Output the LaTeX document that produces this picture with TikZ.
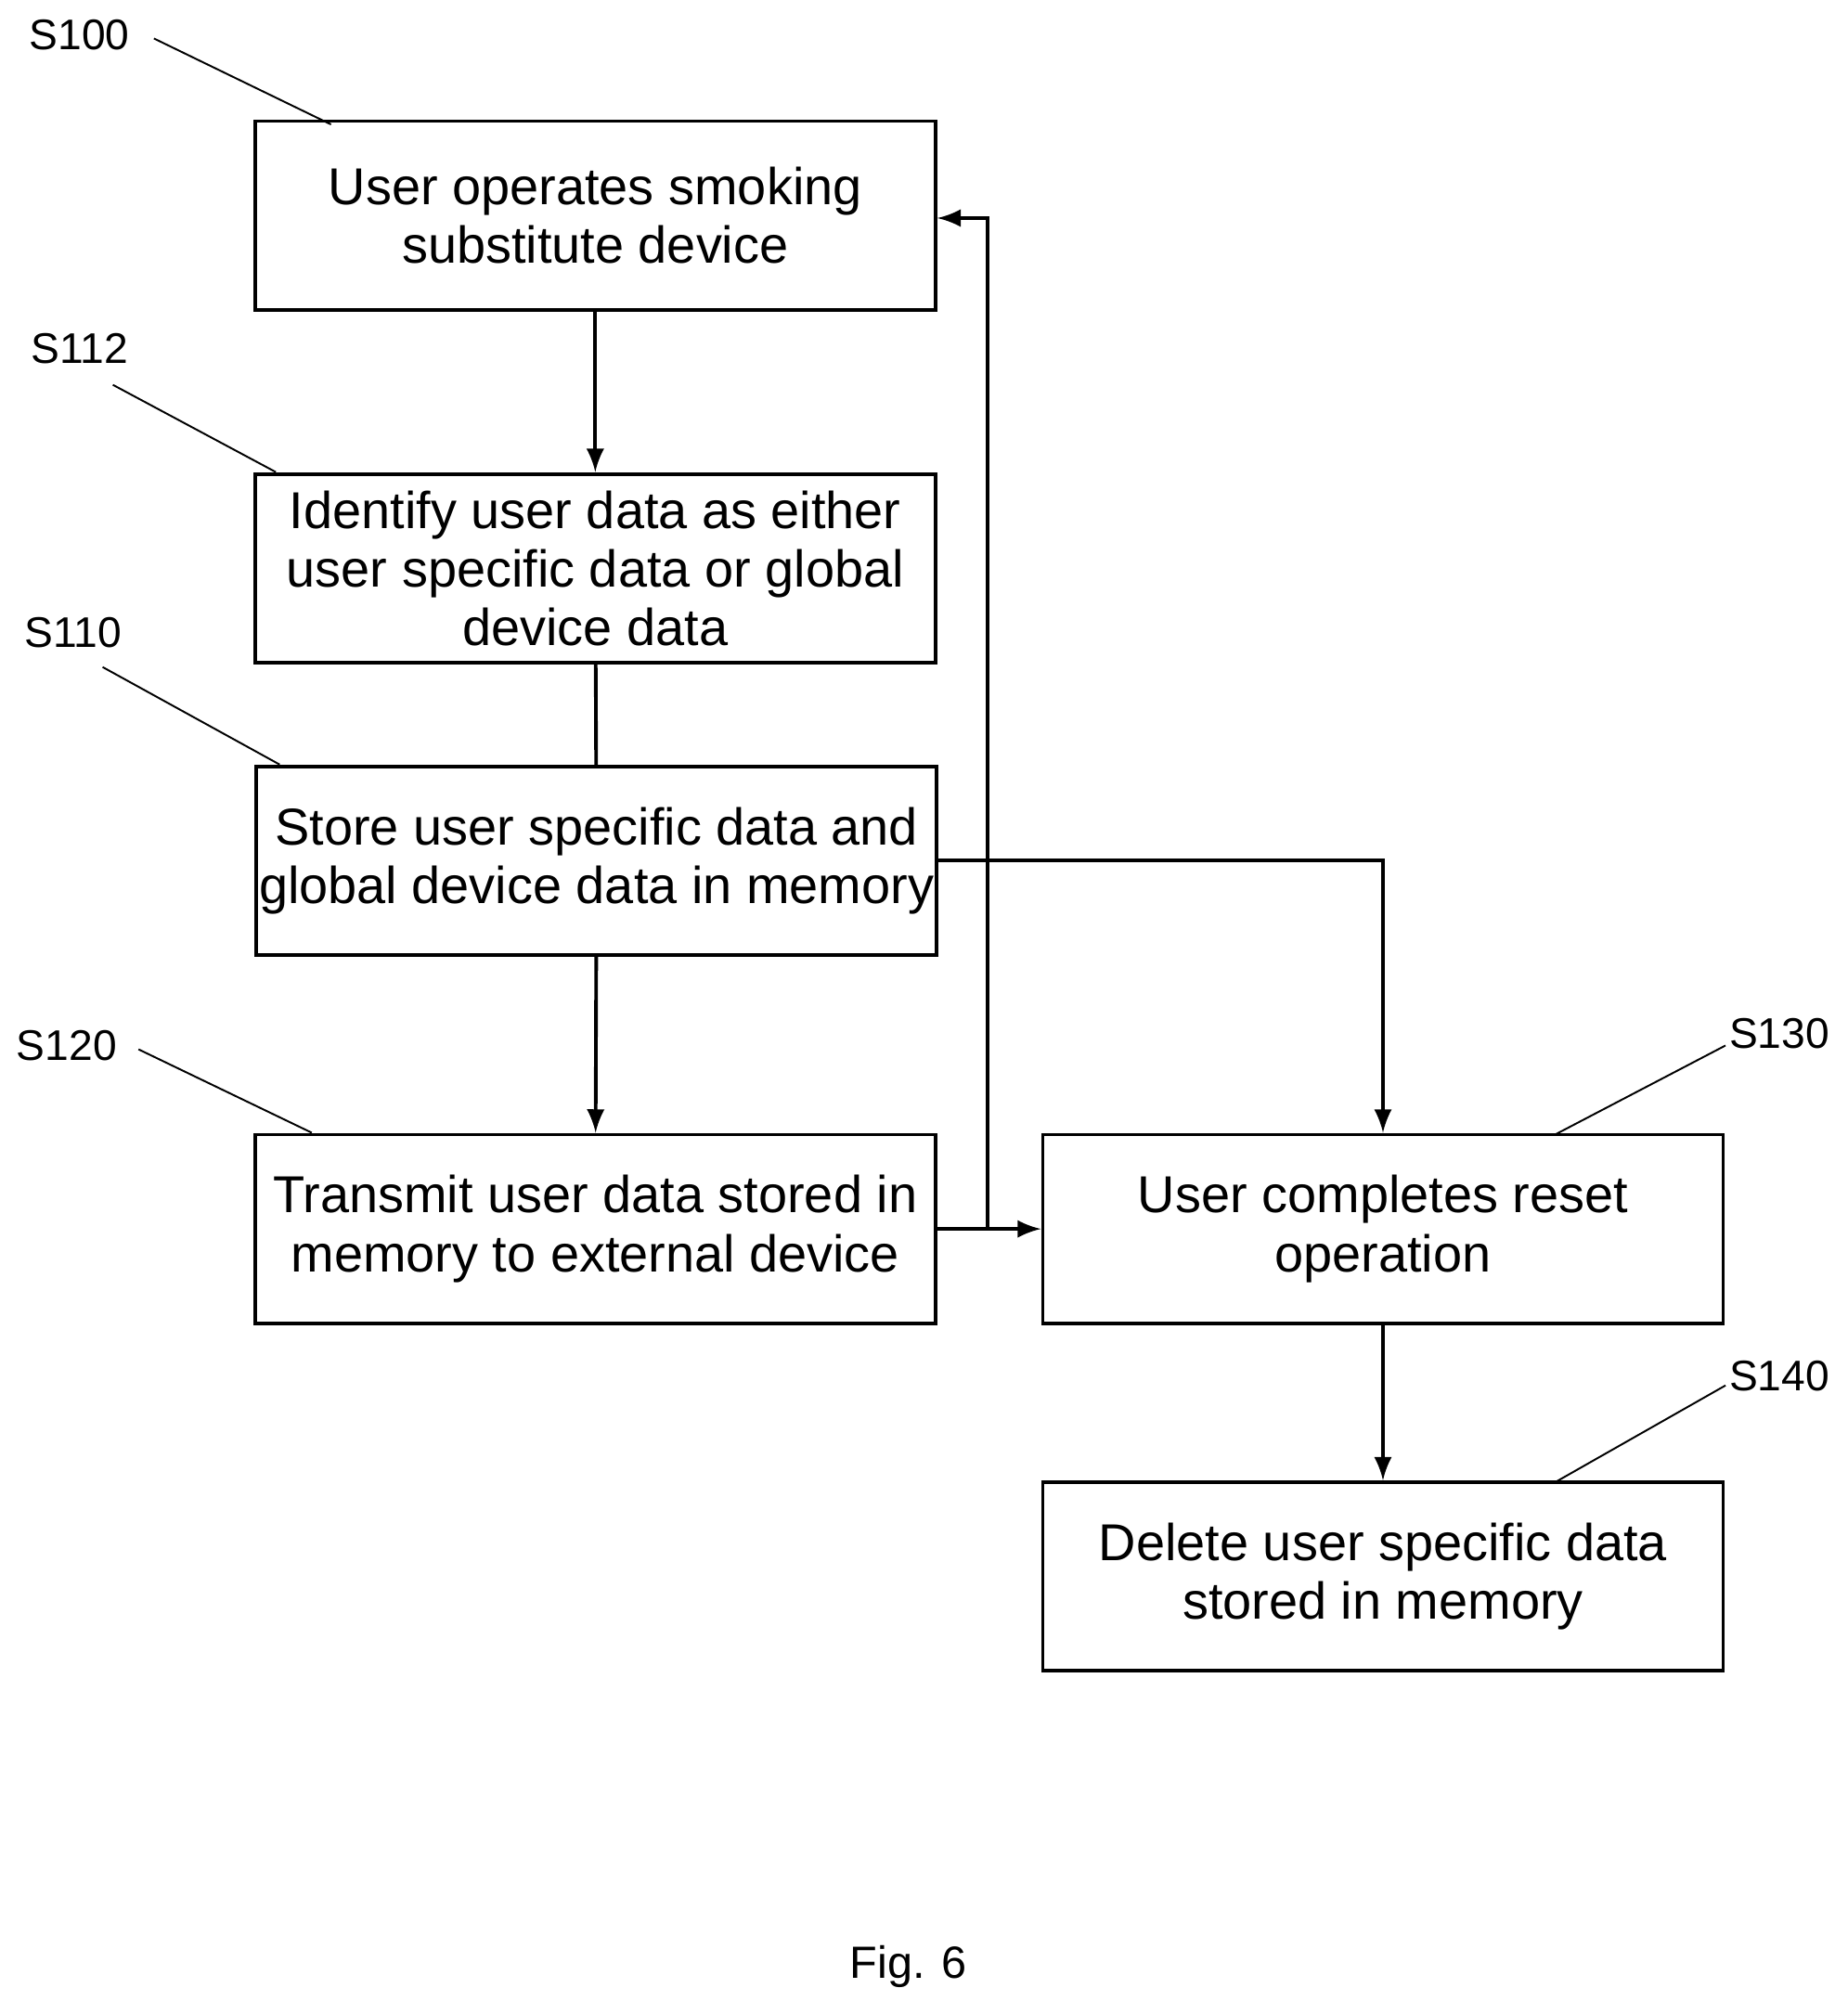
\documentclass[tikz,border=0pt]{standalone}
\usepackage{fontspec}
\setmainfont{Liberation Sans}
\usetikzlibrary{positioning}
\begin{document}
\begin{tikzpicture}[x=0.01cm,y=-0.01cm,
	stepbox/.style={draw, thick, minimum width=5.3cm, minimum height=1.47cm, align=center, font=\fontsize{11.5}{13}\selectfont, inner sep=0pt},
	tag/.style={font=\fontsize{9.5}{11}\selectfont},
	flow/.style={->, >=latex, thick}]

	\useasboundingbox (0,0) rectangle (1440,1570);

	\node [stepbox] (s100) at (464,168) {User operates smoking\\substitute device};
	\node [stepbox] (s112) at (464,443) {Identify user data as either\\user specific data or global\\device data};
	\node [stepbox] (s110) at (465,671) {Store user specific data and\\global device data in memory};
	\node [stepbox] (s120) at (464,958) {Transmit user data stored in\\memory to external device};
	\node [stepbox] (s130) at (1078,958) {User completes reset\\operation};
	\node [stepbox] (s140) at (1078,1229) {Delete user specific data\\stored in memory};

	% step labels
	\node [tag] (l100) at (62,27) {S100};
	\node [tag] (l112) at (62,272) {S112};
	\node [tag] (l110) at (57,493) {S110};
	\node [tag] (l120) at (52,815) {S120};
	\node [tag] (l130) at (1387,806) {S130};
	\node [tag] (l140) at (1387,1073) {S140};
	\draw (120,30) -- (258,97);
	\draw (88,300) -- (215,368);
	\draw (80,520) -- (218,596);
	\draw (108,818) -- (243,883);
	\draw (1345,815) -- (1213,884);
	\draw (1345,1080) -- (1213,1155);

	\node (fig) at (708,1533) {\fontsize{10}{12}\selectfont Fig. 6};

	% connectors
	\draw [flow] (s100) -- (s112);
	\draw [thick] (s112) -- (s110);
	\draw [flow] (s110) -- (s120);
	\draw [flow] (s120) -- (s130);
	\coordinate (back) at (770,958);
	\draw [flow] (back) |- (s100.east |- 0,170);
	\draw [flow] (s110.east) -| (s130.north);
	\draw [flow] (s130) -- (s140);
\end{tikzpicture}
\end{document}
